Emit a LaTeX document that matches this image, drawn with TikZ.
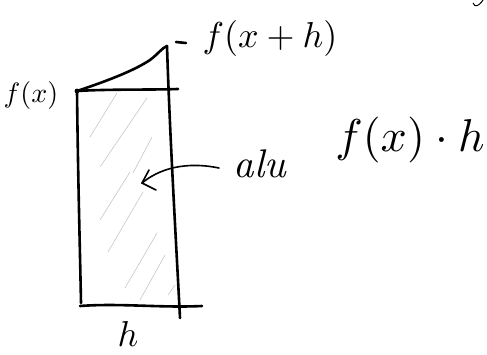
\documentclass[tikz,border=0pt]{standalone}
\usepackage{graphicx}
\usetikzlibrary{arrows.meta}
\begin{document}
\begin{tikzpicture}[x=1pt,y=-1pt,
  ink/.style={line width=2.6pt,line cap=round,line join=round,black},
  thin ink/.style={line width=1.6pt,line cap=round,line join=round,black},
  hatch/.style={line width=0.6pt,gray!45,line cap=round},
  lbl/.style={inner sep=0pt,anchor=center}]
\useasboundingbox (0,0) rectangle (487,354);
% frame of the strip
\coordinate (tl) at (77,91);
\coordinate (bl) at (81,303);
\coordinate (br0) at (80,306);
\coordinate (brx) at (202,306);
\coordinate (rt) at (167,46);
\coordinate (rb) at (180,318);
\coordinate (tr) at (178,89);
% hatching
\draw[hatch] (117,93) -- (90,137);
\draw[hatch] (147,98) -- (100,167);
\draw[hatch] (152,137) -- (133,173);
\draw[hatch] (130,172) -- (100,220);
\draw[hatch] (143,192) -- (108,252);
\draw[hatch] (157,233) -- (125,288);
\draw[hatch] (165,255) -- (140,300);
\draw[hatch] (175,285) -- (168,295);
% sides
\draw[ink] (tl) .. controls (78,180) and (80,250) .. (bl);
\draw[ink] (rt) .. controls (170,140) and (176,240) .. (rb);
\draw[ink] (br0) .. controls (120,303) and (160,308) .. (brx);
\draw[ink] (tl) .. controls (110,89) and (150,90) .. (tr);
% the curve of f
\draw[ink] (tl) .. controls (110,80) and (135,70) .. (150,60) .. controls (158,54) and (162,48) .. (rt);
\fill (tl) circle (2.4pt);
% tick at f(x+h)
\coordinate (tk1) at (176,42);
\coordinate (tk2) at (186,43);
\draw[ink] (tk1) -- (tk2);
% labels
\node[lbl] (fxh) at (270,38) {\scalebox{3.6}{$f(x+h)$}};
\node[lbl] (fx) at (31,95) {\scalebox{2.8}{$f(x)$}};
\node[lbl] (alu) at (260,164) {\scalebox{4}{\itshape alu}};
\node[lbl] (fxh2) at (410,140) {\scalebox{4.6}{$f(x)\cdot h$}};
\node[lbl] (h) at (128,334) {\scalebox{3.6}{$h$}};
% arrow
\coordinate (astart) at (219,168);
\coordinate (atip) at (142,183);
\coordinate (arm1) at (149,170);
\coordinate (arm2) at (156,190);
\draw[thin ink] (astart) .. controls (195,163) and (165,164) .. (atip);
\draw[thin ink] (arm1) -- (atip) -- (arm2);
% fragment at the top right corner
\coordinate (m1) at (473,3);
\coordinate (m2) at (483,0);
\draw[line width=1pt,black] (m1) .. controls (475,8) and (479,6) .. (m2);
\end{tikzpicture}
\end{document}
